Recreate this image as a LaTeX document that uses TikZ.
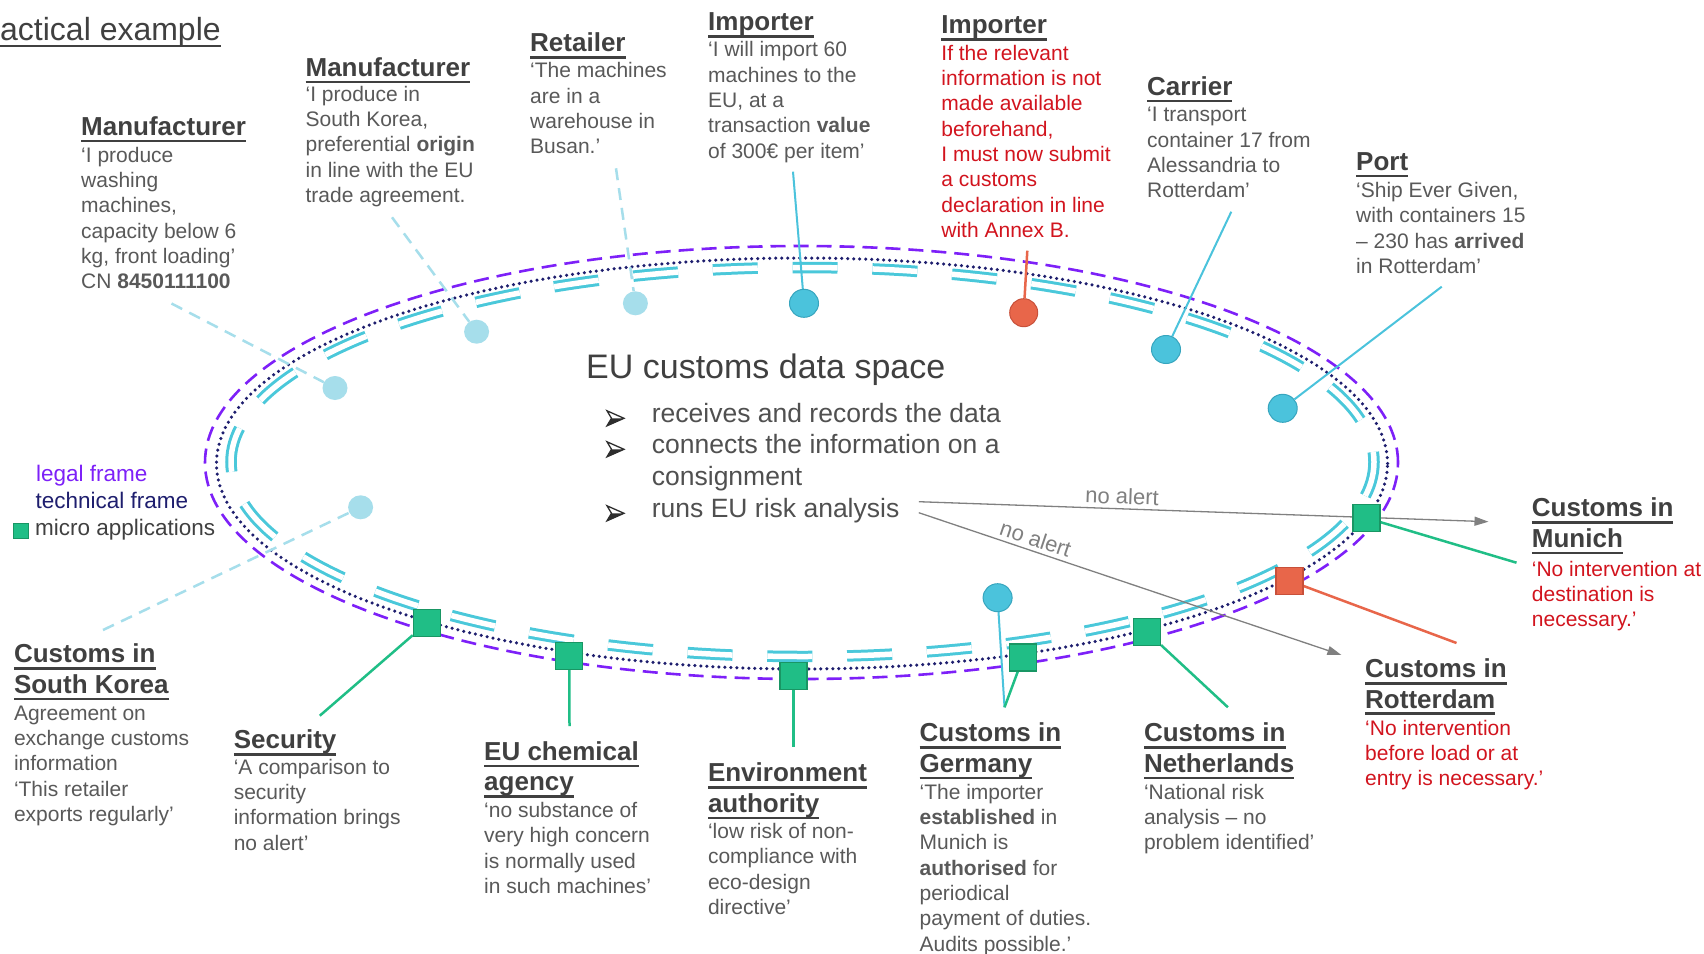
\documentclass[tikz,border=0pt]{standalone}
\usepackage{fontspec}
\setmainfont{Liberation Sans}
\usetikzlibrary{arrows.meta,shapes.geometric}
\pgfdeclarelayer{back}
\pgfdeclarelayer{mid}
\pgfsetlayers{back,mid,main}

\definecolor{legal}{RGB}{125,32,248}
\definecolor{tech}{RGB}{30,30,110}
\definecolor{dcyan}{RGB}{74,200,218}
\definecolor{lcyan}{RGB}{166,222,235}
\definecolor{scyan}{RGB}{75,195,220}
\definecolor{scyanb}{RGB}{55,165,190}
\definecolor{mgreen}{RGB}{32,190,134}
\definecolor{mgreenb}{RGB}{25,150,100}
\definecolor{mred}{RGB}{232,102,74}
\definecolor{mredb}{RGB}{200,80,58}
\definecolor{tred}{RGB}{210,20,30}
\definecolor{hdgray}{RGB}{64,64,64}
\definecolor{txgray}{RGB}{89,89,89}
\definecolor{bulgray}{RGB}{80,80,80}
\definecolor{bulmark}{RGB}{45,45,45}
\definecolor{argray}{RGB}{128,128,128}

\newcommand\ulhd[1]{\setbox0=\hbox{#1}\rlap{\rule[-7pt]{\wd0}{2.6pt}}\box0}
\newcommand\ulti[1]{\setbox0=\hbox{#1}\rlap{\rule[-6.5pt]{\wd0}{2pt}}\box0}
\newcommand\hdfont{\fontsize{26}{30.5}\selectfont\bfseries}
\newcommand\bdfont{\fontsize{21}{25.3}\selectfont}
\newcommand\lgfont{\fontsize{22.5}{27}\selectfont}

\begin{document}
\begin{tikzpicture}[x=1pt,y=-1pt,
  hd/.style={anchor=north west,inner sep=0pt,align=left,font=\hdfont,text=hdgray},
  bd/.style={anchor=north west,inner sep=0pt,align=left,font=\bdfont,text=txgray},
  bdr/.style={bd,text=tred},
  bl/.style={anchor=base west,inner sep=0pt,font=\fontsize{26.5}{31.7}\selectfont,text=bulgray},
  lg/.style={anchor=base west,inner sep=0pt,font=\lgfont},
  lcirc/.style={ellipse,fill=lcyan,minimum width=25pt,minimum height=24pt,inner sep=0pt},
  scirc/.style={ellipse,fill=scyan,draw=scyanb,line width=1pt,minimum width=29pt,minimum height=28pt,inner sep=0pt},
  rcirc/.style={ellipse,fill=mred,draw=mredb,line width=1pt,minimum width=28pt,minimum height=28pt,inner sep=0pt},
  msq/.style={rectangle,fill=mgreen,draw=mgreenb,line width=1.2pt,minimum size=27pt,inner sep=0pt},
  rsq/.style={rectangle,fill=mred,draw=mredb,line width=1.2pt,minimum size=27pt,inner sep=0pt},
  ldash/.style={draw=lcyan,line width=2.5pt,dash pattern=on 12pt off 8pt},
  sline/.style={draw=scyan,line width=2pt},
  rline/.style={draw=mred,line width=2.5pt},
  gline/.style={draw=mgreen,line width=2.5pt},
  garrow/.style={draw=argray,line width=1.3pt,-{Triangle[length=14pt,width=9pt]}},
  nalab/.style={font=\fontsize{22}{26}\selectfont,text=argray,inner sep=1pt},
  bul/.style={draw=bulmark,line width=1.3pt,line join=miter}
]
\useasboundingbox (0,0) rectangle (1704,953);

% ---------- back layer: background and frames ----------
\begin{pgfonlayer}{back}
\fill[white] (0,0) rectangle (1704,953);
\draw[legal,line width=2.6pt,dash pattern=on 15pt off 8pt] (801.5,462.5) ellipse [x radius=596.5pt,y radius=216.5pt];
\draw[tech,line width=3.5pt,line cap=round,dash pattern=on 0pt off 6pt] (802,463.5) ellipse [x radius=585.5pt,y radius=205.5pt];
\draw[dcyan,line width=3pt,double=white,double distance=5.5pt,dash pattern=on 45pt off 34.83pt,dash phase=35pt] (802.5,462) ellipse [x radius=571.5pt,y radius=194.5pt];
\end{pgfonlayer}

% ---------- title ----------
\node[anchor=base west,inner sep=0pt,font=\fontsize{32}{38}\selectfont,text=hdgray] (title) at (0,40) {\ulti{actical example}};

% ---------- circles and squares ----------
\node[lcirc] (lc1) at (335,388) {};
\node[lcirc] (lc2) at (476.6,331.7) {};
\node[lcirc] (lc3) at (635.4,303.3) {};
\node[lcirc] (lc4) at (360.6,507.3) {};
\node[scirc] (sc1) at (804,303.3) {};
\node[scirc] (sc2) at (1166,349.5) {};
\node[scirc] (sc3) at (1282.7,408.3) {};
\node[scirc] (sc4) at (997.6,597.7) {};
\node[rcirc] (rc1) at (1023.7,312.7) {};
\node[msq] (gs1) at (426.8,623) {};
\node[msq] (gs2) at (569.3,655.7) {};
\node[msq] (gs3) at (793.4,676) {};
\node[msq] (gs4) at (1023,657.5) {};
\node[msq] (gs5) at (1147,632) {};
\node[msq] (gs6) at (1366.5,518) {};
\node[rsq] (rs1) at (1289.4,580.7) {};

% ---------- free ends of connectors ----------
\coordinate (m1e) at (171.5,303.5);
\coordinate (m2e) at (392,217.3);
\coordinate (rte) at (616,168.3);
\coordinate (ske) at (103,630);
\coordinate (ime) at (793,171.7);
\coordinate (i2e) at (1027.3,250.7);
\coordinate (cae) at (1231.3,211.7);
\coordinate (poe) at (1441.7,286.7);
\coordinate (gee) at (1004.5,707.3);
\coordinate (sece) at (319.8,715.7);
\coordinate (chee) at (569.5,726);
\coordinate (enve) at (793.4,746.7);
\coordinate (nee) at (1227.9,707.3);
\coordinate (roe) at (1456.5,643);
\coordinate (mue) at (1516.5,562.7);
\coordinate (na1s) at (918.8,501.7);
\coordinate (na1e) at (1488.5,521.7);
\coordinate (na2s) at (918.8,512.7);
\coordinate (na2e) at (1341.4,655);

% ---------- connectors ----------
\begin{pgfonlayer}{mid}
\draw[ldash] (m1e) -- (lc1);
\draw[ldash] (m2e) -- (lc2);
\draw[ldash] (rte) -- (lc3);
\draw[ldash] (ske) -- (lc4);
\draw[sline] (ime) -- (sc1);
\draw[sline] (cae) -- (sc2);
\draw[sline] (poe) -- (sc3);
\draw[sline] (sc4) -- (gee);
\draw[rline] (i2e) -- (rc1);
\draw[rline] (rs1) -- (roe);
\draw[gline] (gs1) -- (sece);
\draw[gline] (gs2) -- (chee);
\draw[gline] (gs3) -- (enve);
\draw[gline] (gs4) -- (gee);
\draw[gline] (gs5) -- (nee);
\draw[gline] (gs6) -- (mue);
\draw[garrow] (na1s) -- node[pos=0.356,sloped,above=3pt,nalab] (nal1) {no alert} (na1e);
\draw[garrow] (na2s) -- node[pos=0.267,sloped,above=3pt,nalab] (nal2) {no alert} (na2e);
\end{pgfonlayer}

% ---------- centre text ----------
\node[anchor=base west,inner sep=0pt,font=\fontsize{34}{40}\selectfont,text=hdgray] (euh) at (586,378.3) {EU customs data space};
\node[bl] (eub1) at (651.7,422.3) {receives and records the data};
\node[bl] (eub2) at (651.7,453.3) {connects the information on a};
\node[bl] (eub3) at (651.7,485) {consignment};
\node[bl] (eub4) at (651.7,517.3) {runs EU risk analysis};
\foreach \by in {418.3,449.3,513.3}{
  \draw[bul,fill=white] (607,\by-7.5) -- (624,\by) -- (607,\by+7.5) -- (611.5,\by) -- cycle;
  \fill[bulmark] (607,\by+7.5) -- (624,\by) -- (611.5,\by) -- cycle;
}

% ---------- legend ----------
\node[lg,text=legal] (lg1) at (36,481.7) {legal frame};
\node[lg,text=tech] (lg2) at (35.5,508.3) {technical frame};
\node[msq,minimum size=15pt,line width=0.8pt] (lg3s) at (20.8,530.5) {};
\node[lg,text=hdgray] (lg3) at (35,535) {micro applications};

% ---------- text blocks ----------
\node[hd] (mf1h) at (81,113.65) {\strut\ulhd{Manufacturer}};
\node[bd] (mf1) at (81,144.3) {\strut‘I produce\\washing\\machines,\\capacity below 6\\kg, front loading’\\CN \textbf{8450111100}};

\node[hd] (mf2h) at (305.4,54.65) {\strut\ulhd{Manufacturer}};
\node[bd] (mf2) at (305.4,83.3) {\strut‘I produce in\\South Korea,\\preferential \textbf{origin}\\in line with the EU\\trade agreement.};

\node[hd] (reth) at (530,30.35) {\strut\ulhd{Retailer}};
\node[bd] (ret) at (530,60) {\strut‘The machines\\are in a\\warehouse in\\Busan.’};

\node[hd] (imph) at (708,9.35) {\strut\ulhd{Importer}};
\node[bd] (imp) at (708,39) {\strut‘I will import 60\\machines to the\\EU, at a\\transaction \textbf{value}\\of 300€ per item’};

\node[hd] (imp2h) at (941.2,12) {\strut\ulhd{Importer}};
\node[bdr] (imp2) at (941.2,42.3) {\strut If the relevant\\information is not\\made available\\beforehand,\\I must now submit\\a customs\\declaration in line\\with Annex B.};

\node[hd] (carh) at (1147,73.65) {\strut\ulhd{Carrier}};
\node[bd] (car) at (1147,104) {\strut‘I transport\\container 17 from\\Alessandria to\\Rotterdam’};

\node[hd] (porth) at (1356,148.65) {\strut\ulhd{Port}};
\node[bd] (port) at (1356,179.6) {\strut‘Ship Ever Given,\\with containers 15\\-- 230 has \textbf{arrived}\\in Rotterdam’};

\node[hd] (munh) at (1531.7,495.35) {\strut\ulhd{Customs in}\\\ulhd{Munich}};
\node[bdr] (mun) at (1531.7,558.3) {\strut‘No intervention at\\destination is\\necessary.’};

\node[hd] (roth) at (1365,656) {\strut\ulhd{Customs in}\\\ulhd{Rotterdam}};
\node[bdr] (rot) at (1365,717.3) {\strut‘No intervention\\before load or at\\entry is necessary.’};

\node[hd] (gerh) at (919.4,720.35) {\strut\ulhd{Customs in}\\\ulhd{Germany}};
\node[bd] (ger) at (919.4,781.3) {\strut‘The importer\\\textbf{established} in\\Munich is\\\textbf{authorised} for\\periodical\\payment of duties.\\Audits possible.’};

\node[hd] (neth) at (1143.8,720.35) {\strut\ulhd{Customs in}\\\ulhd{Netherlands}};
\node[bd] (net) at (1143.8,781.3) {\strut‘National risk\\analysis -- no\\problem identified’};

\node[hd] (skh) at (13.8,641.35) {\strut\ulhd{Customs in}\\\ulhd{South Korea}};
\node[bd] (sk) at (13.8,702.3) {\strut Agreement on\\exchange customs\\information\\‘This retailer\\exports regularly’};

\node[hd] (sech) at (233.6,727) {\strut\ulhd{Security}};
\node[bd] (sec) at (233.6,756.3) {\strut‘A comparison to\\security\\information brings\\no alert’};

\node[hd] (cheh) at (484,738.65) {\strut\ulhd{EU chemical}\\\ulhd{agency}};
\node[bd] (che) at (484,799.6) {\strut‘no substance of\\very high concern\\is normally used\\in such machines’};

\node[hd] (envh) at (707.8,760.35) {\strut\ulhd{Environment}\\\ulhd{authority}};
\node[bd] (env) at (707.8,820.6) {\strut‘low risk of non-\\compliance with\\eco-design\\directive’};

\end{tikzpicture}
\end{document}
